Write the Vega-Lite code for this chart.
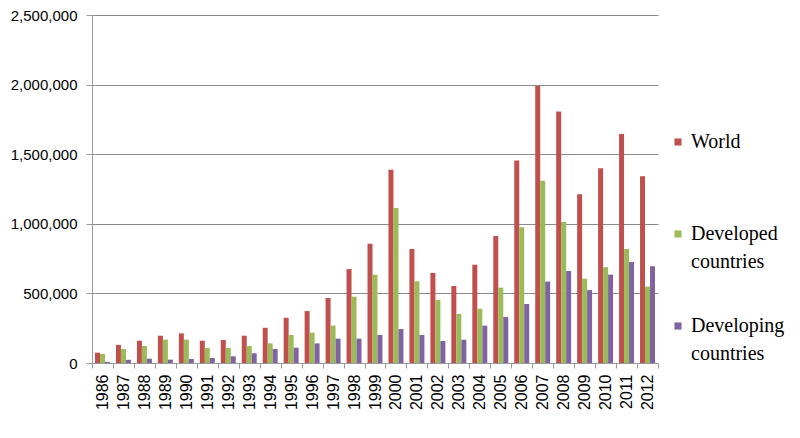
{
  "$schema": "https://vega.github.io/schema/vega-lite/v6.json",
  "width": 566,
  "height": 348,
  "autosize": {"type": "none"},
  "padding": {"left": 92, "top": 15, "right": 142, "bottom": 75},
  "background": "white",
  "config": {"view": {"stroke": null}},
  "data": {"values": [
    {"year":"1986","World":74000,"Developed countries":65000,"Developing countries":8000},
    {"year":"1987","World":130000,"Developed countries":100000,"Developing countries":23000},
    {"year":"1988","World":160000,"Developed countries":122000,"Developing countries":31000},
    {"year":"1989","World":196000,"Developed countries":168000,"Developing countries":24000},
    {"year":"1990","World":213000,"Developed countries":168000,"Developing countries":29000},
    {"year":"1991","World":160000,"Developed countries":108000,"Developing countries":36000},
    {"year":"1992","World":165000,"Developed countries":108000,"Developing countries":48000},
    {"year":"1993","World":196000,"Developed countries":122000,"Developing countries":70000},
    {"year":"1994","World":253000,"Developed countries":141000,"Developing countries":101000},
    {"year":"1995","World":325000,"Developed countries":201000,"Developing countries":110000},
    {"year":"1996","World":373000,"Developed countries":218000,"Developing countries":141000},
    {"year":"1997","World":467000,"Developed countries":269000,"Developing countries":175000},
    {"year":"1998","World":675000,"Developed countries":476000,"Developing countries":175000},
    {"year":"1999","World":857000,"Developed countries":634000,"Developing countries":201000},
    {"year":"2000","World":1389000,"Developed countries":1113000,"Developing countries":244000},
    {"year":"2001","World":819000,"Developed countries":587000,"Developing countries":201000},
    {"year":"2002","World":647000,"Developed countries":453000,"Developing countries":158000},
    {"year":"2003","World":553000,"Developed countries":352000,"Developing countries":167000},
    {"year":"2004","World":706000,"Developed countries":390000,"Developing countries":268000},
    {"year":"2005","World":912000,"Developed countries":541000,"Developing countries":330000},
    {"year":"2006","World":1454000,"Developed countries":975000,"Developing countries":424000},
    {"year":"2007","World":1990000,"Developed countries":1310000,"Developing countries":585000},
    {"year":"2008","World":1806000,"Developed countries":1013000,"Developing countries":661000},
    {"year":"2009","World":1212000,"Developed countries":606000,"Developing countries":524000},
    {"year":"2010","World":1399000,"Developed countries":688000,"Developing countries":635000},
    {"year":"2011","World":1645000,"Developed countries":819000,"Developing countries":726000},
    {"year":"2012","World":1341000,"Developed countries":549000,"Developing countries":695000}
  ]},
  "transform": [
    {"fold": ["World", "Developed countries", "Developing countries"], "as": ["series", "value"]}
  ],
  "mark": {"type": "bar"},
  "encoding": {
    "x": {
      "field": "year", "type": "ordinal",
      "scale": {"paddingInner": 0, "paddingOuter": 0},
      "axis": {
        "title": null,
        "labelAngle": 270,
        "labelFont": "Liberation Sans",
        "labelFontSize": 16,
        "labelColor": "black",
        "labelPadding": 6,
        "tickBand": "extent",
        "tickSize": 5,
        "tickColor": "#9a9a9a",
        "domainColor": "#9a9a9a",
        "grid": false
      }
    },
    "xOffset": {
      "field": "series", "type": "nominal",
      "sort": ["World", "Developed countries", "Developing countries"],
      "scale": {"paddingInner": 0, "paddingOuter": 0.6}
    },
    "y": {
      "field": "value", "type": "quantitative",
      "scale": {"domain": [0, 2500000], "nice": false},
      "axis": {
        "title": null,
        "values": [0, 500000, 1000000, 1500000, 2000000, 2500000],
        "format": ",d",
        "labelFont": "Liberation Sans",
        "labelFontSize": 15,
        "labelColor": "black",
        "labelPadding": 9,
        "tickSize": 6,
        "tickColor": "#9a9a9a",
        "domainColor": "#9a9a9a",
        "gridColor": "#8a8a8a",
        "gridWidth": 1
      }
    },
    "color": {
      "field": "series", "type": "nominal",
      "sort": ["World", "Developed countries", "Developing countries"],
      "scale": {
        "domain": ["World", "Developed countries", "Developing countries"],
        "range": ["#C0504D", "#9BBB59", "#8064A2"]
      },
      "legend": {
        "orient": "none",
        "legendX": 576,
        "legendY": 117,
        "title": null,
        "symbolType": "square",
        "symbolSize": 50,
        "symbolStrokeWidth": 0,
        "labelFont": "DejaVu Serif",
        "labelFontSize": 20,
        "labelColor": "black",
        "labelOffset": 3,
        "labelLimit": 200,
        "rowPadding": 44,
        "labelExpr": "datum.label == 'World' ? ['World', ' '] : split(datum.label, ' ')",
        "encode": {
          "labels": {
            "update": {
              "font": {"value": "Liberation Serif, DejaVu Serif, serif"},
              "lineHeight": {"value": 28}
            }
          }
        }
      }
    }
  }
}
